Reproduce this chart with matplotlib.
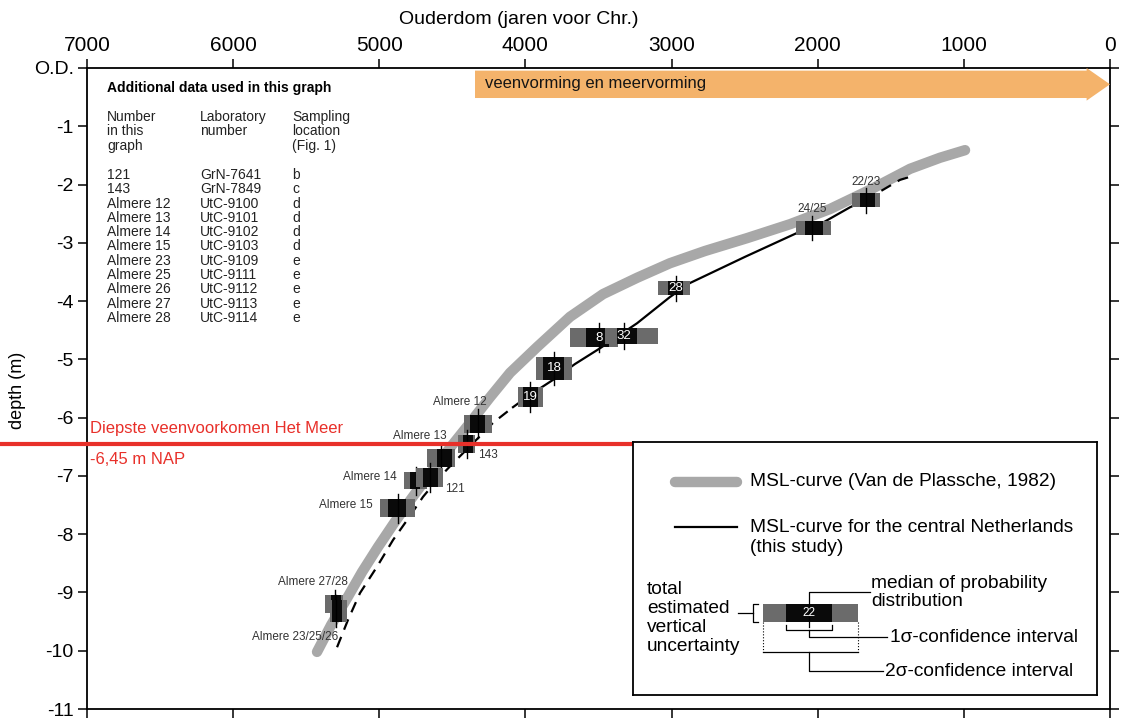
import matplotlib.pyplot as plt
from matplotlib.patches import Rectangle, FancyArrow

plt.rcParams['font.family'] = 'Liberation Sans'

# zeespiegelcurve Van de Plassche (1982)
vdp_age = [5426, 5330, 5221, 5118, 5009, 4899, 4783, 4660, 4523, 4379, 4242,
           4105, 3921, 3695, 3469, 3236, 3011, 2771, 2484, 2189, 1916,
           1642, 1368, 1163, 992]
vdp_depth = [-10.02, -9.56, -9.10, -8.65, -8.22, -7.81, -7.40, -6.98, -6.54,
             -6.09, -5.65, -5.23, -4.79, -4.27, -3.88, -3.60, -3.35,
             -3.14, -2.92, -2.68, -2.42, -2.09, -1.73, -1.54, -1.41]

# zeespiegelcurve centraal Nederland (deze studie)
msl_age = [5289, 5214, 5132, 5016, 4906, 4810, 4701, 4605, 4495, 4359, 4222,
           4085, 3969, 3804, 3661, 3490, 3236, 3011, 2874, 2497, 2141, 2032,
           1779, 1676, 1437, 1334]
msl_depth = [-9.94, -9.47, -9.01, -8.56, -8.10, -7.76, -7.36, -7.07, -6.78,
             -6.44, -6.09, -5.82, -5.61, -5.34, -5.08, -4.81, -4.38, -3.93,
             -3.69, -3.24, -2.83, -2.75, -2.39, -2.27, -1.92, -1.84]
solid_from, solid_to = 11, 23

# dateringen (kalenderjaren v. Chr.) en diepte-onzekerheid
box_labels = ['22/23', '24/25', '28', '8', '32', '18', '19', 'Almere 12', '143',
              'Almere 13', 'Almere 14', '121', 'Almere 15', 'Almere 27/28',
              'Almere 23/25/26']
age_2s_old = [1765, 2148, 3093, 3695, 3455, 3928, 4051, 4420, 4461, 4673, 4831,
              4749, 4995, 5371, 5337]
age_2s_young = [1574, 1909, 2874, 3366, 3093, 3681, 3880, 4229, 4345, 4482, 4673,
                4564, 4755, 5248, 5221]
age_1s_old = [1710, 2087, 3024, 3585, 3373, 3880, 4016, 4379, 4427, 4605, 4790,
              4701, 4940, 5330, 5323]
age_1s_young = [1608, 1963, 2922, 3428, 3236, 3736, 3914, 4276, 4359, 4502, 4721,
                4598, 4817, 5262, 5255]
age_median = [1669, 2039, 2969, 3496, 3325, 3804, 3969, 4324, 4400, 4578, 4749,
              4653, 4872, 5303, 5296]
depth_top = [-2.15, -2.63, -3.66, -4.46, -4.46, -4.96, -5.48, -5.95, -6.30, -6.54,
             -6.93, -6.87, -7.40, -9.04, -9.13]
depth_bottom = [-2.39, -2.87, -3.90, -4.79, -4.74, -5.35, -5.82, -6.26, -6.61,
                -6.85, -7.23, -7.19, -7.71, -9.35, -9.51]

# plaatsing van de labels: (anker, dx pt, dy pt, uitlijning)
label_style = [('top', 0, 8, 'center'), ('top', 0, 9, 'center'), ('in', 0, 0, 'center'),
               ('in', 0, 0, 'center'), ('in', 0, 0, 'center'), ('in', 0, 0, 'center'),
               ('in', 0, 0, 'center'), ('top', 6.5, 9.4, 'right'),
               ('bottom', 8, -1.4, 'left'), ('top', 4.3, 9.4, 'right'),
               ('mid', -13.7, 2.5, 'right'), ('bottom', 10.8, -1.4, 'left'),
               ('mid', -18, 2, 'right'), ('top', 9.4, 9.4, 'right'),
               ('bottom', 1.4, -10.8, 'right')]

# tabel met aanvullende data
tab_number = ['121', '143', 'Almere 12', 'Almere 13', 'Almere 14', 'Almere 15',
              'Almere 23', 'Almere 25', 'Almere 26', 'Almere 27', 'Almere 28']
tab_lab = ['GrN-7641', 'GrN-7849', 'UtC-9100', 'UtC-9101', 'UtC-9102', 'UtC-9103',
           'UtC-9109', 'UtC-9111', 'UtC-9112', 'UtC-9113', 'UtC-9114']
tab_loc = ['b', 'c', 'd', 'd', 'd', 'd', 'e', 'e', 'e', 'e', 'e']

peat_depth = -6.45
arrow_start, arrow_end = 4345, 0

W, H = 1122, 718
fig = plt.figure(figsize=(W / 100, H / 100), dpi=100)
ax = fig.add_axes([87 / W, 1 - 709 / H, 1023 / W, 641 / H])
ax.set_xlim(7000, 0)
ax.set_ylim(-11, 0)

ax.set_xticks(range(7000, -1, -1000))
ax.set_xticklabels([str(v) for v in range(7000, -1, -1000)])
ax.set_yticks(range(0, -12, -1))
ax.set_yticklabels(['O.D.'] + [str(v) for v in range(-1, -12, -1)])
ax.tick_params(axis='x', top=True, bottom=True, labeltop=True, labelbottom=False,
               direction='out', length=6.5, width=1.1, labelsize=15, pad=3)
ax.tick_params(axis='y', left=True, right=True, direction='out', length=6.5,
               width=1.1, labelsize=14, pad=3)
for s in ax.spines.values():
    s.set_linewidth(1.3)

# curves
ax.plot(vdp_age, vdp_depth, color='#a8a8a8', lw=7.5, solid_capstyle='round',
        solid_joinstyle='round', zorder=2)
ax.plot(msl_age[:solid_from + 1], msl_depth[:solid_from + 1], color='black', lw=1.6,
        dashes=(5, 3.5), zorder=3)
ax.plot(msl_age[solid_from:solid_to + 1], msl_depth[solid_from:solid_to + 1],
        color='black', lw=1.6, zorder=3)
ax.plot(msl_age[solid_to:], msl_depth[solid_to:], color='black', lw=1.6,
        dashes=(5, 3.5), zorder=3)

# dateringen als boxen
for i, lab in enumerate(box_labels):
    top, bot = depth_top[i], depth_bottom[i]
    ax.add_patch(Rectangle((age_2s_young[i], bot), age_2s_old[i] - age_2s_young[i],
                           top - bot, facecolor='#6b6b6b', edgecolor='none', zorder=4))
    ax.add_patch(Rectangle((age_1s_young[i], bot), age_1s_old[i] - age_1s_young[i],
                           top - bot, facecolor='#0a0a0a', edgecolor='none', zorder=4))
    ax.plot([age_median[i]] * 2, [top + 0.09, bot - 0.09], color='black', lw=1, zorder=4)

    mode, dx, dy, ha = label_style[i]
    if mode == 'in':
        ax.text(age_median[i], (top + bot) / 2, lab, color='white', fontsize=9.5,
                ha='center', va='center', zorder=5)
        continue
    y = {'top': top, 'bottom': bot, 'mid': (top + bot) / 2}[mode]
    ax.annotate(lab, (age_median[i], y), xytext=(dx, dy), textcoords='offset points',
                ha=ha, va='center', fontsize=8.5, color='#333333', zorder=5)

# pijl veenvorming
ax.add_patch(FancyArrow(arrow_start, -0.28, arrow_end - arrow_start, 0, width=0.47,
                        head_width=0.56, head_length=160, length_includes_head=True,
                        facecolor='#f4b36b', edgecolor='none', zorder=3, clip_on=False))
ax.text(arrow_start - 70, -0.27, 'veenvorming en meervorming', fontsize=12,
        color='#151515', ha='left', va='center', zorder=4)

# diepste veen Het Meer
ax.axhline(peat_depth, xmin=-87 / 1023, xmax=546 / 1023, color='#e8302a', lw=3,
           clip_on=False, zorder=6)
ax.annotate('Diepste veenvoorkomen Het Meer', (0.003, peat_depth),
            xycoords=('axes fraction', 'data'), xytext=(0, 11), textcoords='offset points',
            color='#e8302a', fontsize=12, ha='left', va='center')
ax.annotate('-6,45 m NAP', (0.003, peat_depth), xycoords=('axes fraction', 'data'),
            xytext=(0, -11), textcoords='offset points', color='#e8302a', fontsize=12,
            ha='left', va='center')

# tabel linksboven
def axpos(px, py):
    return (px - 87) / 1023, 1 - (py - 68) / 641

ax.text(*axpos(107, 88), 'Additional data used in this graph', transform=ax.transAxes,
        fontsize=10, fontweight='bold', va='center', ha='left')
headers = [['Number', 'in this', 'graph'], ['Laboratory', 'number'],
           ['Sampling', 'location', '(Fig. 1)']]
cols = [107, 200, 292]
for cx, lines in zip(cols, headers):
    for j, t in enumerate(lines):
        ax.text(*axpos(cx, 117 + j * 14.3), t, transform=ax.transAxes, fontsize=10,
                va='center', ha='left', color='#222222')
for j in range(len(tab_number)):
    for cx, t in zip(cols, [tab_number[j], tab_lab[j], tab_loc[j]]):
        ax.text(*axpos(cx, 175 + j * 14.3), t, transform=ax.transAxes, fontsize=10,
                va='center', ha='left', color='#222222')

fig.text(519 / W, 1 - 20 / H, 'Ouderdom (jaren voor Chr.)', fontsize=14,
         ha='center', va='center')
fig.text(18 / W, 1 - 390 / H, 'depth (m)', fontsize=13, rotation=90,
         ha='center', va='center')

# legenda
lg = fig.add_axes([633 / W, 1 - 695 / H, 464 / W, 253 / H], zorder=10)
lg.set_xlim(0, 464)
lg.set_ylim(253, 0)
lg.set_xticks([])
lg.set_yticks([])
for s in lg.spines.values():
    s.set_linewidth(1.3)
fs = 13.8
lg.plot([42, 104], [40, 40], color='#a8a8a8', lw=7.5, solid_capstyle='round')
lg.text(117, 40, 'MSL-curve (Van de Plassche, 1982)', fontsize=fs, va='center')
lg.plot([42, 104], [85, 85], color='black', lw=1.6)
lg.text(117, 85, 'MSL-curve for the central Netherlands', fontsize=fs, va='center')
lg.text(117, 105, '(this study)', fontsize=fs, va='center')
for j, t in enumerate(['total', 'estimated', 'vertical', 'uncertainty']):
    lg.text(14, 148 + j * 18.7, t, fontsize=fs, va='center')
lk = dict(color='black', lw=0.9)
lg.plot([105, 120], [171, 171], **lk)
lg.plot([125, 120, 120, 125], [162, 162, 180, 180], **lk)
lg.add_patch(Rectangle((130, 162), 95, 18, facecolor='#6b6b6b', edgecolor='none'))
lg.add_patch(Rectangle((153, 162), 46, 18, facecolor='#0a0a0a', edgecolor='none'))
lg.text(176, 171, '22', color='white', fontsize=8.5, ha='center', va='center')
lg.plot([176, 176, 237], [185, 150, 150], **lk)
lg.text(238, 141, 'median of probability', fontsize=fs, va='center')
lg.text(238, 159, 'distribution', fontsize=fs, va='center')
lg.plot([153, 153, 199, 199], [183, 188, 188, 183], **lk)
lg.plot([176, 176, 254], [188, 195, 195], **lk)
lg.text(257, 195, '1σ-confidence interval', fontsize=fs, va='center')
lg.plot([130, 130], [180, 210], color='black', lw=0.8, ls=':')
lg.plot([225, 225], [180, 210], color='black', lw=0.8, ls=':')
lg.plot([130, 225], [210, 210], **lk)
lg.plot([176, 176, 250], [210, 229, 229], **lk)
lg.text(252, 229, '2σ-confidence interval', fontsize=fs, va='center')

fig.savefig('out.png', dpi=100)
